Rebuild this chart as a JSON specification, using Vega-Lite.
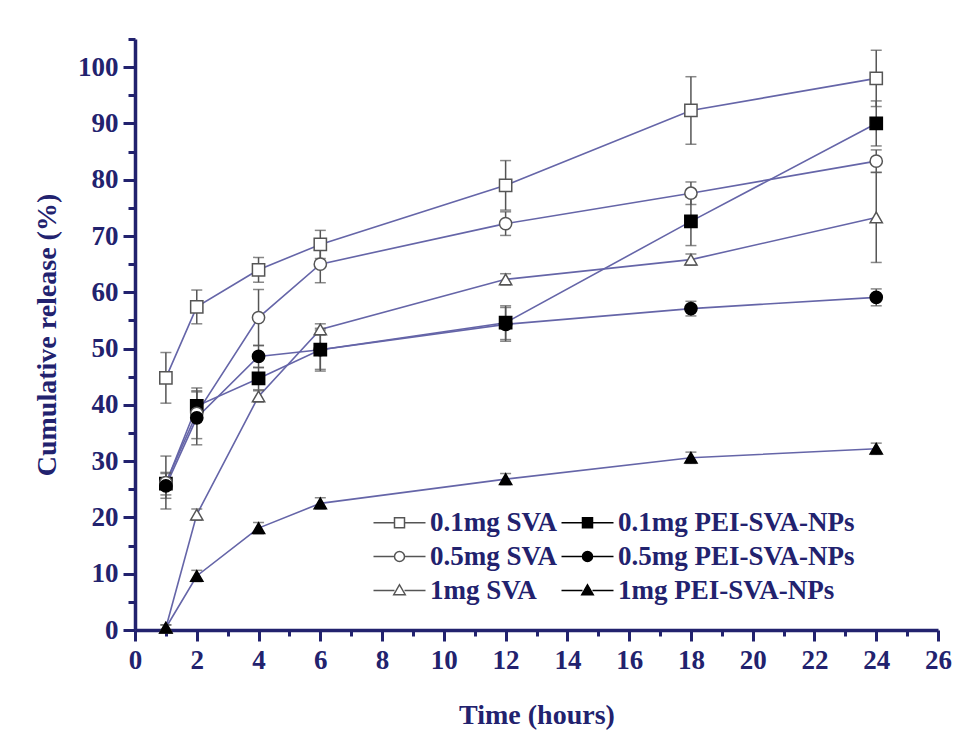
{
  "$schema": "https://vega.github.io/schema/vega-lite/v6.json",
  "width": 803,
  "height": 591,
  "autosize": {"type": "none"},
  "padding": {"left": 135, "top": 39, "right": 26, "bottom": 116},
  "background": "white",
  "config": {
    "view": {"stroke": null},
    "font": "Liberation Serif",
    "axis": {
      "domainColor": "#22226e",
      "domainWidth": 3.5,
      "tickColor": "#22226e",
      "tickWidth": 3,
      "labelColor": "#22226e",
      "labelFont": "Liberation Serif",
      "labelFontWeight": "bold",
      "labelFontSize": 27,
      "titleColor": "#22226e",
      "titleFont": "Liberation Serif",
      "titleFontWeight": "bold",
      "titleFontSize": 28,
      "grid": false
    },
    "legend": {
      "labelFont": "Liberation Serif",
      "labelFontWeight": "bold",
      "labelFontSize": 27,
      "labelColor": "#22226e",
      "labelLimit": 0
    }
  },
  "data": {
    "values": [
      {"series": "0.1mg SVA", "t": 1, "v": 44.8, "err": 4.5},
      {"series": "0.1mg SVA", "t": 2, "v": 57.4, "err": 3.0},
      {"series": "0.1mg SVA", "t": 4, "v": 64.0, "err": 2.2},
      {"series": "0.1mg SVA", "t": 6, "v": 68.5, "err": 2.5},
      {"series": "0.1mg SVA", "t": 12, "v": 79.0, "err": 4.4},
      {"series": "0.1mg SVA", "t": 18, "v": 92.3, "err": 6.0},
      {"series": "0.1mg SVA", "t": 24, "v": 98.0, "err": 5.0},
      {"series": "0.1mg PEI-SVA-NPs", "t": 1, "v": 26.0, "err": 2.0},
      {"series": "0.1mg PEI-SVA-NPs", "t": 2, "v": 39.8, "err": 2.5},
      {"series": "0.1mg PEI-SVA-NPs", "t": 4, "v": 44.7, "err": 2.0},
      {"series": "0.1mg PEI-SVA-NPs", "t": 6, "v": 49.8, "err": 3.5},
      {"series": "0.1mg PEI-SVA-NPs", "t": 12, "v": 54.6, "err": 3.0},
      {"series": "0.1mg PEI-SVA-NPs", "t": 18, "v": 72.6, "err": 4.3},
      {"series": "0.1mg PEI-SVA-NPs", "t": 24, "v": 90.0, "err": 4.0},
      {"series": "0.5mg SVA", "t": 1, "v": 26.2, "err": 4.7},
      {"series": "0.5mg SVA", "t": 2, "v": 38.5, "err": 4.5},
      {"series": "0.5mg SVA", "t": 4, "v": 55.5, "err": 5.0},
      {"series": "0.5mg SVA", "t": 6, "v": 65.0, "err": 3.3},
      {"series": "0.5mg SVA", "t": 12, "v": 72.2, "err": 2.1},
      {"series": "0.5mg SVA", "t": 18, "v": 77.6, "err": 2.0},
      {"series": "0.5mg SVA", "t": 24, "v": 83.3, "err": 2.0},
      {"series": "0.5mg PEI-SVA-NPs", "t": 1, "v": 25.6, "err": 2.2},
      {"series": "0.5mg PEI-SVA-NPs", "t": 2, "v": 37.7, "err": 4.8},
      {"series": "0.5mg PEI-SVA-NPs", "t": 4, "v": 48.6, "err": 2.0},
      {"series": "0.5mg PEI-SVA-NPs", "t": 6, "v": 49.8, "err": 3.8},
      {"series": "0.5mg PEI-SVA-NPs", "t": 12, "v": 54.3, "err": 3.0},
      {"series": "0.5mg PEI-SVA-NPs", "t": 18, "v": 57.1, "err": 1.3},
      {"series": "0.5mg PEI-SVA-NPs", "t": 24, "v": 59.1, "err": 1.5},
      {"series": "1mg SVA", "t": 1, "v": 0.4, "err": 0.5},
      {"series": "1mg SVA", "t": 2, "v": 20.5, "err": 1.0},
      {"series": "1mg SVA", "t": 4, "v": 41.5, "err": 1.0},
      {"series": "1mg SVA", "t": 6, "v": 53.4, "err": 1.0},
      {"series": "1mg SVA", "t": 12, "v": 62.3, "err": 1.0},
      {"series": "1mg SVA", "t": 18, "v": 65.8, "err": 1.0},
      {"series": "1mg SVA", "t": 24, "v": 73.3, "err": 8.0},
      {"series": "1mg PEI-SVA-NPs", "t": 1, "v": 0.4, "err": 0.5},
      {"series": "1mg PEI-SVA-NPs", "t": 2, "v": 9.6, "err": 1.0},
      {"series": "1mg PEI-SVA-NPs", "t": 4, "v": 18.1, "err": 1.0},
      {"series": "1mg PEI-SVA-NPs", "t": 6, "v": 22.5, "err": 1.0},
      {"series": "1mg PEI-SVA-NPs", "t": 12, "v": 26.8, "err": 1.0},
      {"series": "1mg PEI-SVA-NPs", "t": 18, "v": 30.6, "err": 1.0},
      {"series": "1mg PEI-SVA-NPs", "t": 24, "v": 32.2, "err": 1.0}
    ]
  },
  "encoding": {
    "x": {
      "field": "t",
      "type": "quantitative",
      "scale": {"domain": [0, 26], "nice": false, "zero": false},
      "axis": {
        "title": "Time (hours)",
        "values": [0,1,2,3,4,5,6,7,8,9,10,11,12,13,14,15,16,17,18,19,20,21,22,23,24,25,26],
        "labelExpr": "datum.value % 2 === 0 ? datum.label : ''",
        "tickSize": {"condition": {"test": "datum.value % 2 === 0", "value": 11}, "value": 6},
        "labelPadding": 6,
        "labelFlush": false,
        "labelOverlap": false,
        "titlePadding": 28
      }
    },
    "y": {
      "field": "v",
      "type": "quantitative",
      "scale": {"domain": [0, 105], "nice": false},
      "axis": {
        "title": "Cumulative release (%)",
        "values": [0,5,10,15,20,25,30,35,40,45,50,55,60,65,70,75,80,85,90,95,100,105],
        "labelExpr": "datum.value % 10 === 0 ? datum.label : ''",
        "tickSize": {"condition": {"test": "datum.value % 10 === 0", "value": 12}, "value": 7},
        "labelPadding": 5,
        "labelFlush": false,
        "labelOverlap": false,
        "titlePadding": 16
      }
    }
  },
  "layer": [
    {
      "mark": {"type": "line", "color": "#6565a8", "strokeWidth": 1.6},
      "encoding": {"detail": {"field": "series", "type": "nominal"}}
    },
    {
      "mark": {
        "type": "errorbar",
        "color": "#555555",
        "ticks": {"size": 11, "thickness": 1.5},
        "rule": {"strokeWidth": 1.5}
      },
      "encoding": {"yError": {"field": "err"}}
    },
    {
      "mark": {"type": "point", "filled": false, "size": 150, "strokeWidth": 1.5, "opacity": 1},
      "encoding": {
        "shape": {
          "condition": [
            {"test": "indexof(datum.series, '0.1') === 0", "value": "square"},
            {"test": "indexof(datum.series, '0.5') === 0", "value": "circle"}
          ],
          "value": "triangle-up"
        },
        "fill": {
          "field": "series",
          "type": "nominal",
          "scale": {
            "domain": ["0.1mg SVA", "0.1mg PEI-SVA-NPs", "0.5mg SVA", "0.5mg PEI-SVA-NPs", "1mg SVA", "1mg PEI-SVA-NPs"],
            "range": ["white", "black", "white", "black", "white", "black"]
          },
          "legend": {
            "title": null,
            "orient": "none",
            "direction": "horizontal",
            "legendX": 251,
            "legendY": 470,
            "columns": 2,
            "columnPadding": 0,
            "rowPadding": 6,
            "padding": 0,
            "labelOffset": 17,
            "symbolSize": 100,
            "symbolStrokeWidth": 1.5,
            "symbolType": {"expr": "indexof(datum.value, '0.1') === 0 ? 'M-5.2,0H-1M1,0H5.2M-1,-1H1V1H-1Z' : indexof(datum.value, '0.5') === 0 ? 'M-5.2,0H-1M1,0H5.2M1,0A1,1,0,1,1,-1,0A1,1,0,1,1,1,0Z' : 'M-5.2,0H-1M1,0H5.2M0,-1.15L1.15,0.85H-1.15Z'"}
          }
        },
        "stroke": {
          "field": "series",
          "type": "nominal",
          "scale": {
            "domain": ["0.1mg SVA", "0.1mg PEI-SVA-NPs", "0.5mg SVA", "0.5mg PEI-SVA-NPs", "1mg SVA", "1mg PEI-SVA-NPs"],
            "range": ["#555555", "black", "#555555", "black", "#555555", "black"]
          },
          "legend": {
            "title": null,
            "orient": "none",
            "direction": "horizontal",
            "legendX": 251,
            "legendY": 470,
            "columns": 2,
            "columnPadding": 0,
            "rowPadding": 6,
            "padding": 0,
            "labelOffset": 17,
            "symbolSize": 100,
            "symbolStrokeWidth": 1.5,
            "symbolType": {"expr": "indexof(datum.value, '0.1') === 0 ? 'M-5.2,0H-1M1,0H5.2M-1,-1H1V1H-1Z' : indexof(datum.value, '0.5') === 0 ? 'M-5.2,0H-1M1,0H5.2M1,0A1,1,0,1,1,-1,0A1,1,0,1,1,1,0Z' : 'M-5.2,0H-1M1,0H5.2M0,-1.15L1.15,0.85H-1.15Z'"}
          }
        }
      }
    }
  ]
}
